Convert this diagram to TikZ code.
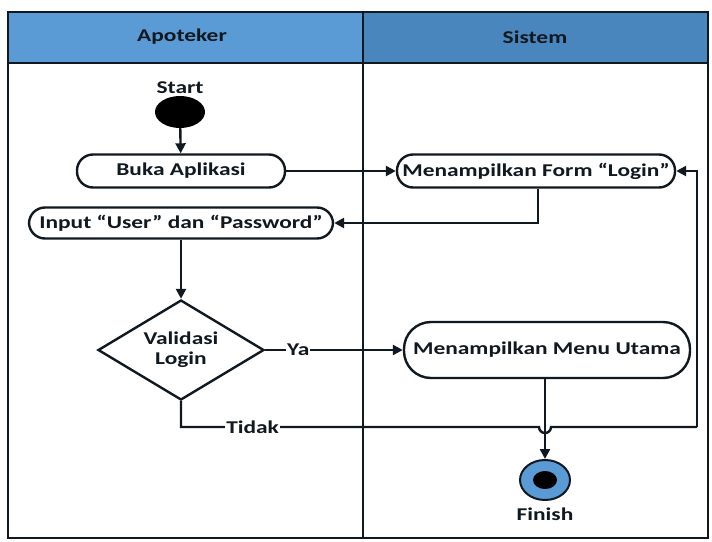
\documentclass[tikz,border=0pt]{standalone}
\usepackage{fontspec}
\setmainfont{Carlito}[FakeStretch=1.3]
\usetikzlibrary{shapes.geometric,arrows.meta}

\definecolor{lajurkiri}{HTML}{5B9BD5}
\definecolor{lajurkanan}{HTML}{4A86BE}
\definecolor{garis}{HTML}{101820}

\begin{document}
\begin{tikzpicture}[x=1pt,y=-1pt,
					every node/.style={%
						font=\bfseries\fontsize{18}{20}\selectfont,
						text=garis
					},
					aktivitas/.style={%
						draw=garis,
						line width=2.4pt,
						rectangle,
						rounded corners=16pt,
						fill=white,
						minimum height=33pt
					},
					keputusan/.style={%
						draw=garis,
						line width=2.4pt,
						diamond,
						aspect=1.65,
						minimum width=166pt,
						minimum height=100pt,
						align=center,
						inner sep=0pt
					},
					alur/.style={%
						draw=garis,
						line width=2.4pt,
						-{Triangle[length=10pt,width=10pt]}
					},
					label alur/.style={%
						fill=white,
						inner sep=1pt
					}
				]

	\useasboundingbox (0,0) rectangle (712,541);

	% swimlane
	\fill[lajurkiri] (8,12) rectangle (363,63);
	\fill[lajurkanan] (363,12) rectangle (708,63);
	\draw[garis, line width=2.4pt] (8,12) rectangle (708,538);
	\draw[garis, line width=2.4pt] (8,63) -- (708,63);
	\draw[garis, line width=2.4pt] (363,12) -- (363,538);
	\node (apoteker) at (182,37) {Apoteker};
	\node (sistem) at (535,37) {Sistem};

	\node (start) at (180,112) [ellipse, fill=black, minimum width=50pt, minimum height=32pt] {};
	\node (startlbl) at (180,88) {Start};

	\node (buka) at (181,171) [aktivitas, minimum width=208pt] {Buka Aplikasi};
	\node (input) at (181,223) [aktivitas, minimum width=304pt, minimum height=31pt] {Input “User” dan “Password”};
	\node (validasi) at (181,350) [keputusan] {Validasi\\Login};

	\node (form) at (536,171) [aktivitas, minimum width=278pt] {Menampilkan Form “Login”};
	\node (menu) at (547,350) [aktivitas, minimum width=286pt, minimum height=56pt, rounded corners=27pt] {Menampilkan Menu Utama};

	\node (finish) at (545,480) [ellipse, draw=garis, line width=2pt, fill=lajurkiri, minimum width=50pt, minimum height=40pt] {};
	\node (finishdot) at (finish.center) [ellipse, fill=black, minimum width=24pt, minimum height=18pt] {};
	\node (finishlbl) at (545,514) {Finish};

	\coordinate (belok) at (697,427);
	\coordinate (lompat) at (545,427);

	\draw[alur] (start) -- (buka);
	\draw[alur] (buka) -- (form);
	\draw[alur] (form.south -| 538,0) |- (input);
	\draw[alur] (input) -- (validasi);
	\draw[alur] (validasi) -- node[label alur, pos=0.24] {Ya} (menu);
	\draw[alur] (menu.south -| finish) -- (finish);
	\draw[garis, line width=2.4pt] (validasi.south) |- node[label alur, pos=0.6] {Tidak} ([xshift=-6pt]lompat)
		arc[start angle=180, end angle=0, x radius=6pt, y radius=-6pt]
		-- (belok);
	\draw[alur] (belok) |- (form);
\end{tikzpicture}
\end{document}
